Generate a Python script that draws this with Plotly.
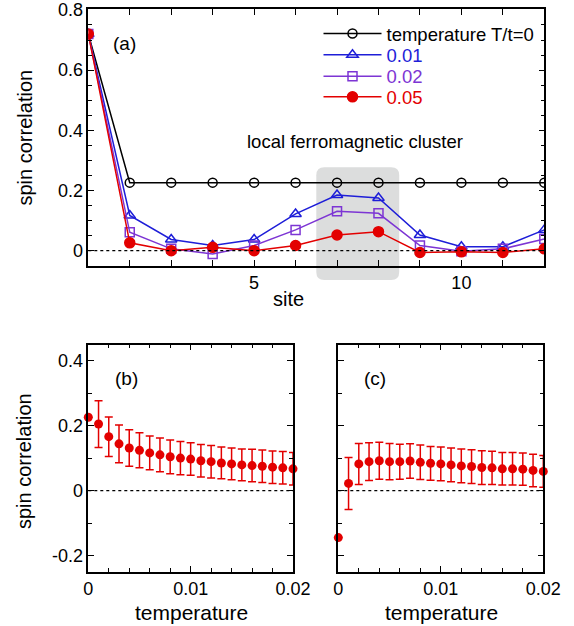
import plotly.graph_objects as go

W, H = 574, 626
FONT = "Liberation Sans, Arial, Helvetica, sans-serif"

# ---------------- data: panel (a) ----------------
sites = list(range(1, 13))
corr_T0 = [0.72, 0.226, 0.226, 0.226, 0.226, 0.226, 0.226, 0.226, 0.226, 0.226, 0.226, 0.226]
corr_T001 = [0.72, 0.117, 0.037, 0.017, 0.037, 0.122, 0.185, 0.175, 0.052, 0.013, 0.013, 0.069]
corr_T002 = [0.72, 0.061, 0.006, -0.011, 0.017, 0.069, 0.131, 0.124, 0.017, -0.002, 0.006, 0.039]
corr_T005 = [0.72, 0.026, 0.0, 0.011, 0.0, 0.017, 0.052, 0.063, -0.006, -0.004, -0.006, 0.006]
series_names = ["temperature T/t=0", "0.01", "0.02", "0.05"]
cluster_sites = [6.5, 8.5]

# ---------------- data: panels (b), (c) ----------------
temps = [i * 0.001 for i in range(21)]
corr_b = [0.226, 0.205, 0.166, 0.144, 0.131, 0.124, 0.116, 0.110, 0.104, 0.100, 0.097,
          0.092, 0.089, 0.085, 0.082, 0.079, 0.077, 0.075, 0.072, 0.070, 0.067]
err_b = [0.0, 0.072, 0.061, 0.058, 0.056, 0.054, 0.052, 0.052, 0.052, 0.051, 0.050,
         0.050, 0.050, 0.049, 0.049, 0.049, 0.050, 0.050, 0.050, 0.050, 0.050]
corr_c = [-0.145, 0.022, 0.082, 0.089, 0.092, 0.089, 0.089, 0.091, 0.087, 0.084, 0.082,
          0.079, 0.076, 0.074, 0.071, 0.070, 0.067, 0.067, 0.066, 0.062, 0.059]
err_c = [0.0, 0.080, 0.063, 0.058, 0.057, 0.056, 0.054, 0.053, 0.053, 0.052, 0.052,
         0.052, 0.052, 0.052, 0.052, 0.051, 0.050, 0.050, 0.050, 0.050, 0.049]

BLACK = "#000000"
BLUE = "#1e1ed8"
PURPLE = "#7d35d4"
RED = "#e30000"


def px(x):
    return x / W


def py(y):
    return 1 - y / H


fig = go.Figure()

# panel (a) traces, each with its own legend box (one row each)
styles = [
    (corr_T0, BLACK, "circle-open", 9),
    (corr_T001, BLUE, "triangle-up-open", 10),
    (corr_T002, PURPLE, "square-open", 9),
    (corr_T005, RED, "circle", 10),
]
legend_ids = ["legend", "legend2", "legend3", "legend4"]
for (vals, col, sym, sz), name, lg in zip(styles, series_names, legend_ids):
    fig.add_trace(go.Scatter(
        x=sites, y=vals, mode="lines+markers",
        name=f"<span style='color:{col}'>{name}</span>",
        line=dict(color=col, width=1.5),
        marker=dict(symbol=sym, size=sz, color=col, line=dict(color=col, width=1.5)),
        xaxis="x", yaxis="y", showlegend=True, legend=lg,
    ))

# panel (b)
fig.add_trace(go.Scatter(
    x=temps, y=corr_b, mode="markers",
    marker=dict(symbol="circle", size=9, color=RED),
    error_y=dict(type="data", array=err_b, color=RED, thickness=1.5, width=4),
    xaxis="x2", yaxis="y2", showlegend=False, cliponaxis=False,
))
# panel (c)
fig.add_trace(go.Scatter(
    x=temps, y=corr_c, mode="markers",
    marker=dict(symbol="circle", size=9, color=RED),
    error_y=dict(type="data", array=err_c, color=RED, thickness=1.5, width=4),
    xaxis="x3", yaxis="y3", showlegend=False, cliponaxis=False,
))

axis_common = dict(
    showline=True, linecolor="black", linewidth=1.5, mirror="allticks",
    ticks="inside", ticklen=6, tickwidth=1.3, tickcolor="black",
    showgrid=False, zeroline=False, automargin=False,
    tickfont=dict(family=FONT, size=18, color="black"),
)
minor_common = dict(ticks="inside", ticklen=4, tickcolor="black", tickwidth=1.2)

legend_rows = [34, 55.3, 76.7, 97.3]
legends = {}
for lg, yrow in zip(legend_ids, legend_rows):
    legends[lg] = dict(
        x=px(318.5), y=py(yrow), xanchor="left", yanchor="middle",
        bgcolor="rgba(0,0,0,0)", borderwidth=0,
        font=dict(family=FONT, size=18.5),
        itemwidth=58,
    )

fig.update_layout(
    width=W, height=H, autosize=False,
    margin=dict(l=0, r=0, t=0, b=0, pad=0, autoexpand=False),
    paper_bgcolor="white", plot_bgcolor="white",
    font=dict(family=FONT, color="black"),
    xaxis=dict(domain=[px(88.3), px(544.3)], range=[1, 12], anchor="y",
               tickvals=sites, ticktext=["5" if s == 5 else ("10" if s == 10 else "") for s in sites],
               **axis_common),
    yaxis=dict(domain=[py(265.7), py(9.3)], range=[-0.05, 0.802], anchor="x",
               tickvals=[0, 0.2, 0.4, 0.6, 0.8], ticktext=["0", "0.2", "0.4", "0.6", "0.8"],
               minor=dict(dtick=0.05, tick0=0, **minor_common),
               **axis_common),
    xaxis2=dict(domain=[px(88.3), px(293.0)], range=[0, 0.02], anchor="y2",
                tickvals=[0, 0.01, 0.02], ticktext=["0", "0.01", "0.02"],
                minor=dict(dtick=0.002, tick0=0, **minor_common),
                **axis_common),
    yaxis2=dict(domain=[py(571.7), py(344.5)], range=[-0.25, 0.45], anchor="x2",
                tickvals=[-0.2, 0, 0.2, 0.4], ticktext=["-0.2", "0", "0.2", "0.4"],
                minor=dict(dtick=0.1, tick0=0, **minor_common),
                **axis_common),
    xaxis3=dict(domain=[px(338.3), px(543.3)], range=[0, 0.02], anchor="y3",
                tickvals=[0, 0.01, 0.02], ticktext=["0", "0.01", "0.02"],
                minor=dict(dtick=0.002, tick0=0, **minor_common),
                **axis_common),
    yaxis3=dict(domain=[py(571.7), py(344.5)], range=[-0.25, 0.45], anchor="x3",
                tickvals=[-0.2, 0, 0.2, 0.4], ticktext=["-0.2", "0", "0.2", "0.4"], showticklabels=False,
                minor=dict(dtick=0.1, tick0=0, **minor_common),
                **axis_common),
    **legends,
)

# local ferromagnetic cluster box (rounded), x in site units, y in paper
x0, x1 = cluster_sites
rx = 8 / 41.45
ry = 8 / H
ya, yb = py(280), py(167.3)
path = (f"M {x0 + rx},{ya} L {x1 - rx},{ya} Q {x1},{ya} {x1},{ya + ry} "
        f"L {x1},{yb - ry} Q {x1},{yb} {x1 - rx},{yb} L {x0 + rx},{yb} "
        f"Q {x0},{yb} {x0},{yb - ry} L {x0},{ya + ry} Q {x0},{ya} {x0 + rx},{ya} Z")
fig.add_shape(type="path", path=path, xref="x", yref="paper",
              fillcolor="#dcdddd", line=dict(width=0), layer="below")

# zero dotted lines
for xr, yr in [("x domain", "y"), ("x2 domain", "y2"), ("x3 domain", "y3")]:
    fig.add_shape(type="line", xref=xr, yref=yr, x0=0, x1=1, y0=0, y1=0,
                  line=dict(color="black", width=1.3, dash="3px,3px"), layer="above")

ann = []
def text(x, y, s, size, angle=0):
    ann.append(dict(x=px(x), y=py(y), xref="paper", yref="paper", text=s, showarrow=False,
                    font=dict(family=FONT, size=size, color="black"), textangle=angle,
                    xanchor="center", yanchor="middle"))

text(125, 43, "(a)", 19)
text(126, 378, "(b)", 19)
text(375, 378, "(c)", 19)
text(355, 141, "local ferromagnetic cluster", 18.5)
text(24, 137.5, "spin correlation", 20, -90)
text(24, 461, "spin correlation", 20, -90)
text(288.7, 299, "site", 20)
text(191, 612, "temperature", 21)
text(441.7, 612, "temperature", 21)
fig.update_layout(annotations=ann)

post = (
    "document.documentElement.style.margin='0';"
    "document.body.style.margin='0';document.body.style.padding='0';"
    "document.body.style.overflow='hidden';"
    "var d=document.getElementById('{plot_id}');"
    "d.style.position='fixed';d.style.left='0px';d.style.top='0px';"
)
fig.write_html("out.html", config={"displayModeBar": False}, post_script=post)
